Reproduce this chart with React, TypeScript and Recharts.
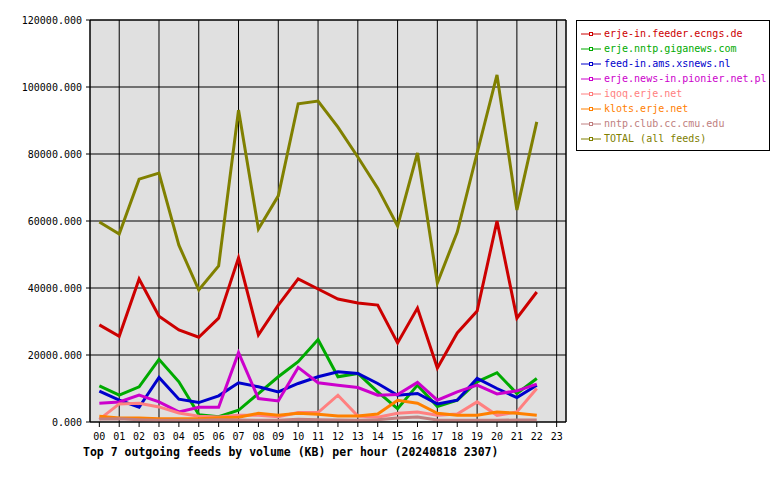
import { LineChart, Line, XAxis, YAxis, CartesianGrid, ReferenceLine } from 'recharts'

const hours = [0, 1, 2, 3, 4, 5, 6, 7, 8, 9, 10, 11, 12, 13, 14, 15, 16, 17, 18, 19, 20, 21, 22]
const hourTicks = [0, 1, 2, 3, 4, 5, 6, 7, 8, 9, 10, 11, 12, 13, 14, 15, 16, 17, 18, 19, 20, 21, 22, 23]
const valueTicks = [0, 20000, 40000, 60000, 80000, 100000, 120000]

const ecngs = [29000, 25600, 42700, 31600, 27500, 25300, 31000, 49000, 26000, 34900, 42700, 39700, 36700, 35500, 34900, 23600, 34000, 16100, 26600, 33100, 60000, 31000, 38800]
const giganews = [10800, 8000, 10500, 18700, 12000, 2200, 1600, 3500, 8500, 13500, 18000, 24600, 13500, 14500, 9000, 4000, 11000, 4600, 6500, 12000, 14700, 8500, 13000]
const xsnews = [9200, 6500, 4400, 13300, 6800, 5800, 7800, 11700, 10500, 9000, 11500, 13500, 15000, 14500, 11500, 8000, 8500, 5400, 6500, 13000, 10000, 7300, 11000]
const pionier = [5600, 6000, 8000, 6000, 3000, 4400, 4400, 20700, 7000, 6300, 16300, 11700, 11000, 10300, 8000, 8200, 11800, 6500, 9000, 11000, 8400, 9300, 11300]
const iqoq = [800, 5400, 5600, 4500, 2700, 1700, 1500, 2000, 2000, 1600, 2800, 2800, 8000, 1800, 1400, 2600, 3000, 2000, 2400, 6000, 2000, 3000, 10000]
const klots = [1700, 1200, 1200, 1000, 1000, 1000, 1300, 1400, 2600, 2000, 2600, 2300, 1800, 1800, 2400, 6500, 5600, 2600, 2000, 2000, 3000, 2600, 2000]
const cmu = [900, 1000, 700, 500, 500, 500, 700, 600, 500, 500, 800, 700, 600, 500, 700, 1200, 1500, 600, 500, 500, 500, 600, 600]
const total = [59700, 56100, 72500, 74300, 52800, 39400, 46600, 93100, 57600, 67500, 95000, 95800, 88000, 79100, 69800, 58500, 80300, 41500, 56700, 80300, 103600, 63300, 89600]

const feeds = [
  { key: 'ecngs', name: 'erje-in.feeder.ecngs.de', color: '#cc0000', values: ecngs },
  { key: 'giganews', name: 'erje.nntp.giganews.com', color: '#00aa00', values: giganews },
  { key: 'xsnews', name: 'feed-in.ams.xsnews.nl', color: '#0000cc', values: xsnews },
  { key: 'pionier', name: 'erje.news-in.pionier.net.pl', color: '#cc00cc', values: pionier },
  { key: 'iqoq', name: 'iqoq.erje.net', color: '#ff8080', values: iqoq },
  { key: 'klots', name: 'klots.erje.net', color: '#ff8000', values: klots },
  { key: 'cmu', name: 'nntp.club.cc.cmu.edu', color: '#c08080', values: cmu },
  { key: 'total', name: 'TOTAL (all feeds)', color: '#808000', values: total },
]

const data = hours.map((h, i) => {
  const row: Record<string, number> = { hour: h }
  feeds.forEach((f) => { row[f.key] = f.values[i] })
  return row
})

const mono = '"DejaVu Sans Mono", "Liberation Mono", monospace'

export default function App() {
  return (
    <div style={{ position: 'absolute', left: 0, top: 0, width: 780, height: 480, background: '#fff', fontFamily: mono }}>
      <LineChart width={780} height={480} data={data} margin={{ top: 20, right: 214, bottom: 0, left: 0 }}>
        <CartesianGrid fill="#e0e0e0" stroke="#000" strokeOpacity={1} />
        <XAxis
          dataKey="hour"
          type="number"
          domain={[-0.47, 23.47]}
          ticks={hourTicks}
          tickFormatter={(v) => String(v).padStart(2, '0')}
          height={58}
          tickSize={5}
          tickMargin={6}
          stroke="#000"
          tick={{ fill: '#000', fontSize: 10, fontFamily: mono }}
        />
        <YAxis
          type="number"
          domain={[0, 120000]}
          ticks={valueTicks}
          tickFormatter={(v) => v.toFixed(3)}
          width={90}
          tickSize={4}
          tickMargin={4}
          stroke="#000"
          tick={{ fill: '#000', fontSize: 10, fontFamily: mono }}
        />
        <ReferenceLine x={23.47} stroke="#000" />
        <ReferenceLine y={120000} stroke="#000" />
        {feeds.map((f) => (
          <Line
            key={f.key}
            dataKey={f.key}
            name={f.name}
            stroke={f.color}
            strokeWidth={3}
            dot={false}
            type="linear"
            isAnimationActive={false}
          />
        ))}
      </LineChart>
      <div style={{ position: 'absolute', left: 576, top: 20, width: 194, height: 131, border: '1px solid #000', boxSizing: 'border-box', paddingTop: 5 }}>
        {feeds.map((f) => (
          <div key={f.key} style={{ display: 'flex', alignItems: 'center', height: 15, fontSize: 10, color: f.color, whiteSpace: 'nowrap' }}>
            <svg width={24} height={10} style={{ marginLeft: 3, flexShrink: 0 }}>
              <line x1={1} y1={5} x2={21} y2={5} stroke={f.color} strokeWidth={1} />
              <rect x={9.5} y={3.5} width={3} height={3} fill="#fff" stroke={f.color} strokeWidth={1} />
            </svg>
            <span>{f.name}</span>
          </div>
        ))}
      </div>
      <div style={{ position: 'absolute', left: 83, top: 445, fontSize: 11.5, fontWeight: 'bold', color: '#000', whiteSpace: 'nowrap' }}>
        Top 7 outgoing feeds by volume (KB) per hour (20240818 2307)
      </div>
    </div>
  )
}
